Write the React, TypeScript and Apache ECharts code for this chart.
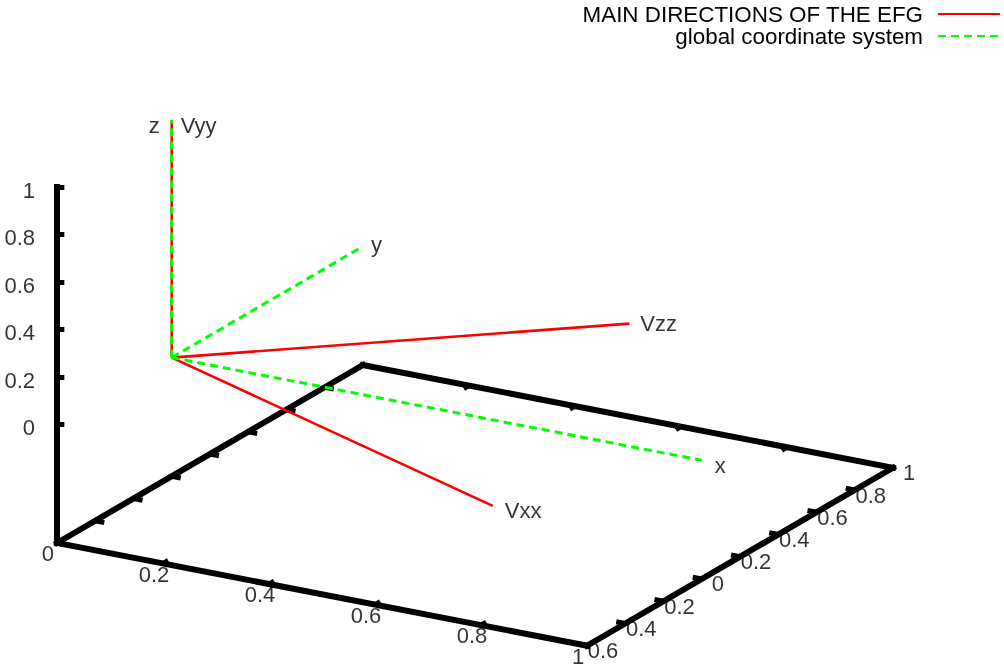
import React, { useEffect, useRef } from "react";
import * as echarts from "echarts";

// ---- data ----
const xRange = [0, 1];
const yRange = [-0.6, 1];
const zRange = [0, 1];
const ticsLevel = 0.5;
const viewRotX = 60;
const viewRotZ = 30;

const xTicks = [0, 0.2, 0.4, 0.6, 0.8, 1];
const xTickLabels = ["0", "0.2", "0.4", "0.6", "0.8", "1"];
const yTicks = [-0.6, -0.4, -0.2, 0, 0.2, 0.4, 0.6, 0.8, 1];
const yTickLabels = ["0.6", "0.4", "0.2", "0", "0.2", "0.4", "0.6", "0.8", "1"];
const zTicks = [0, 0.2, 0.4, 0.6, 0.8, 1];
const zTickLabels = ["0", "0.2", "0.4", "0.6", "0.8", "1"];

const origin = [0, 0, 0];
const mainName = "MAIN DIRECTIONS OF THE EFG";
const mainLabels = ["Vxx", "Vyy", "Vzz"];
const mainDirs = [
  [0.815, -0.58, 0],
  [0, 0, 1],
  [0.565, 0.827, 0],
];
const globalName = "global coordinate system";
const globalLabels = ["x", "y", "z"];
const globalDirs = [
  [1, 0, 0],
  [0, 1, 0],
  [0, 0, 1],
];

// ---- styles ----
const FONT = '"Liberation Sans", Arial, Helvetica, sans-serif';
const FS = 22;
const RED = "#ff0000";
const GREEN = "#00ff00";
const mainLabelStyle = [
  { align: "left", offset: [12, 5] },
  { align: "left", offset: [9, 5] },
  { align: "left", offset: [11, 0] },
];
const globalLabelStyle = [
  { align: "left", offset: [13, 5] },
  { align: "left", offset: [8, -2] },
  { align: "right", offset: [-12, 5] },
];

// ---- projection (gnuplot-like view 60,30) ----
const zBase = zRange[0] - ticsLevel * (zRange[1] - zRange[0]);
const nrm = (v: number, lo: number, hi: number) => (2 * (v - lo)) / (hi - lo) - 1;
function projectN(X: number, Y: number, Z: number): [number, number] {
  const a = (viewRotZ * Math.PI) / 180;
  const b = (viewRotX * Math.PI) / 180;
  const px = X * Math.cos(a) + Y * Math.sin(a);
  const q = -X * Math.sin(a) + Y * Math.cos(a);
  const py = q * Math.cos(b) + Z * Math.sin(b);
  return [px, py];
}
function toN(x: number, y: number, z: number): [number, number, number] {
  return [nrm(x, xRange[0], xRange[1]), nrm(y, yRange[0], yRange[1]), nrm(z, zBase, zRange[1])];
}
function project(x: number, y: number, z: number): [number, number] {
  const [X, Y, Z] = toN(x, y, z);
  return projectN(X, Y, Z);
}

const TICK_N = 0.034; // tick length in normalized units
const ZTICK_P = 0.024; // z tick length in projected units

function buildBox() {
  const [x0, x1] = xRange;
  const [y0, y1] = yRange;
  return [
    [project(x0, y0, zBase), project(x1, y0, zBase)],
    [project(x1, y0, zBase), project(x1, y1, zBase)],
    [project(x1, y1, zBase), project(x0, y1, zBase)],
    [project(x0, y1, zBase), project(x0, y0, zBase)],
    [project(x0, y0, zBase), project(x0, y0, zRange[1])],
  ];
}

function buildTicks() {
  const segs: [number, number][][] = [];
  xTicks.forEach((x) => {
    const [X] = toN(x, 0, 0);
    segs.push([projectN(X, -1, -1), projectN(X, -1 + TICK_N, -1)]);
    segs.push([projectN(X, 1, -1), projectN(X, 1 - TICK_N, -1)]);
  });
  yTicks.forEach((y) => {
    const [, Y] = toN(0, y, 0);
    segs.push([projectN(1, Y, -1), projectN(1 - TICK_N, Y, -1)]);
    segs.push([projectN(-1, Y, -1), projectN(-1 + TICK_N, Y, -1)]);
  });
  zTicks.forEach((z) => {
    const p = project(xRange[0], yRange[0], z);
    segs.push([p, [p[0] + ZTICK_P, p[1]]]);
  });
  return segs;
}

function labelSeries(
  points: [number, number][],
  texts: string[],
  align: string,
  offset: number[],
  z = 10
) {
  return {
    type: "scatter",
    silent: true,
    clip: false,
    symbolSize: 0,
    z,
    data: points.map((p, i) => ({ value: p, name: texts[i] })),
    label: {
      show: true,
      formatter: "{b}",
      position: "inside",
      align,
      verticalAlign: "middle",
      offset,
      fontSize: FS,
      fontFamily: FONT,
      color: "#000",
    },
  };
}

export default function App() {
  const ref = useRef<HTMLDivElement>(null);
  useEffect(() => {
    if (!ref.current) return;
    const chart = echarts.init(ref.current, undefined, { renderer: "svg" });
    const o = project(origin[0], origin[1], origin[2]);

    const vectorSeries: any[] = [];
    mainDirs.forEach((d) => {
      vectorSeries.push({
        type: "line",
        name: mainName,
        silent: true,
        clip: false,
        symbol: "none",
        z: 5,
        data: [o, project(origin[0] + d[0], origin[1] + d[1], origin[2] + d[2])],
        lineStyle: { color: RED, width: 2.6 },
        itemStyle: { color: RED },
      });
    });
    globalDirs.forEach((d) => {
      vectorSeries.push({
        type: "line",
        name: globalName,
        silent: true,
        clip: false,
        symbol: "none",
        z: 6,
        data: [o, project(origin[0] + d[0], origin[1] + d[1], origin[2] + d[2])],
        lineStyle: { color: GREEN, width: 3, type: [8, 5] },
        itemStyle: { color: GREEN },
      });
    });

    const mainEnds = mainDirs.map((d) => project(d[0], d[1], d[2]));
    const globalEnds = globalDirs.map((d) => project(d[0], d[1], d[2]));

    const vecLabelSeries: any[] = [];
    mainEnds.forEach((p, i) => {
      const st = mainLabelStyle[i];
      vecLabelSeries.push(labelSeries([p], [mainLabels[i]], st.align, st.offset));
    });
    globalEnds.forEach((p, i) => {
      const st = globalLabelStyle[i];
      vecLabelSeries.push(labelSeries([p], [globalLabels[i]], st.align, st.offset));
    });

    const option: any = {
      animation: false,
      grid: { left: 16, top: 19.15, width: 918, height: 616.5, show: false },
      xAxis: { type: "value", min: -1.5, max: 1.5, show: false },
      yAxis: { type: "value", min: -1.5, max: 1.5, show: false },
      legend: {
        data: [mainName, globalName],
        orient: "vertical",
        right: 3,
        top: 3,
        padding: 0,
        align: "right",
        itemWidth: 62,
        itemHeight: 14,
        itemGap: 0,
        selectedMode: false,
        itemStyle: { opacity: 0 },
        textStyle: {
          fontSize: 22.4,
          lineHeight: 22,
          fontFamily: FONT,
          color: "#000",
          padding: [0, 10, 0, 0],
        },
      },
      series: [
        {
          type: "lines",
          coordinateSystem: "cartesian2d",
          silent: true,
          clip: false,
          z: 2,
          data: buildBox().map((c) => ({ coords: c })),
          lineStyle: { color: "#000", width: 6, opacity: 1, curveness: 0, cap: "square" },
        },
        {
          type: "lines",
          coordinateSystem: "cartesian2d",
          silent: true,
          clip: false,
          z: 2,
          data: buildTicks().map((c) => ({ coords: c })),
          lineStyle: { color: "#000", width: 5, opacity: 1, curveness: 0, cap: "butt" },
        },
        ...vectorSeries,
        labelSeries(
          xTicks.map((x) => project(x, yRange[0], zBase)),
          xTickLabels,
          "center",
          [-9, 10.5]
        ),
        labelSeries(
          yTicks.map((y) => project(xRange[1], y, zBase)),
          yTickLabels,
          "center",
          [16, 5]
        ),
        labelSeries(
          zTicks.map((z) => project(xRange[0], yRange[0], z)),
          zTickLabels,
          "right",
          [-22, 3.5]
        ),
        ...vecLabelSeries,
      ],
    };
    chart.setOption(option);
    return () => chart.dispose();
  }, []);
  return (
    <div
      ref={ref}
      style={{ position: "fixed", left: 0, top: 0, width: 1004, height: 668 }}
    />
  );
}
